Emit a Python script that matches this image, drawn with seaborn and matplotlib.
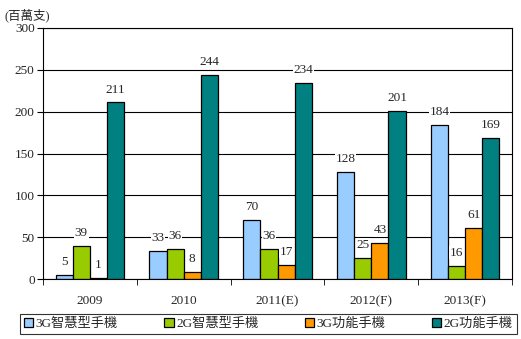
import matplotlib
matplotlib.use("Agg")
import matplotlib.pyplot as plt
import seaborn as sns
import pandas as pd
import numpy as np

years = ["2009", "2010", "2011(E)", "2012(F)", "2013(F)"]
series = ["3G智慧型手機", "2G智慧型手機", "3G功能手機", "2G功能手機"]
s3g_smart = [5, 33, 70, 128, 184]
s2g_smart = [39, 36, 36, 25, 16]
s3g_feat = [1, 8, 17, 43, 61]
s2g_feat = [211, 244, 234, 201, 169]
colors = ["#99CCFF", "#99CC00", "#FF9900", "#008080"]

rows = []
for name, vals in zip(series, [s3g_smart, s2g_smart, s3g_feat, s2g_feat]):
    for y, v in zip(years, vals):
        rows.append({"year": y, "series": name, "value": v})
df = pd.DataFrame(rows)

sns.set_style("white")
plt.rcParams["font.family"] = ["Liberation Serif", "Noto Sans CJK TC"]

fig = plt.figure(figsize=(5.21, 3.39), dpi=100)
ax = fig.add_axes([43/521, 60/339, 469/521, 251/339])

sns.barplot(data=df, x="year", y="value", hue="series", palette=colors,
            order=years, hue_order=series, width=0.73, ax=ax,
            edgecolor="black", linewidth=0.9, saturation=1, legend=True)

ax.set_ylim(0, 300)
ax.set_xlim(-0.5, 4.5)
ax.set_yticks(range(0, 301, 50))
ax.yaxis.grid(True, color="black", linewidth=0.8)
ax.set_axisbelow(True)
ax.set_xlabel("")
ax.set_ylabel("")
for sp in ax.spines.values():
    sp.set_color("black")
    sp.set_linewidth(0.8)
ax.tick_params(axis="y", which="major", left=True, length=4, labelsize=9.5, color="black", pad=2)
ax.tick_params(axis="x", which="major", bottom=False, labelsize=9.5, pad=8)
ax.set_xticks(np.arange(-0.5, 4.6, 1), minor=True)
ax.tick_params(axis="x", which="minor", bottom=True, length=4, color="black")

for cont in ax.containers:
    ax.bar_label(cont, fontsize=9.5, padding=5,
                 bbox=dict(facecolor="white", edgecolor="none", pad=0.5))

fig.text(0.008, 0.975, "(百萬支)", fontsize=9, va="top", ha="left")

handles, labels = ax.get_legend_handles_labels()
ax.legend_.remove()
leg = fig.legend(handles, labels, loc="lower left", ncol=4,
                 bbox_to_anchor=(20/521, 5/339, 497/521, 23/339), mode="expand",
                 frameon=True, fancybox=False, edgecolor="black", fontsize=9.5,
                 handlelength=0.7, handleheight=0.7, handletextpad=0.2,
                 columnspacing=1.0, borderpad=0.3, borderaxespad=0)
leg.get_frame().set_linewidth(0.8)

fig.savefig("out.png", dpi=100)
